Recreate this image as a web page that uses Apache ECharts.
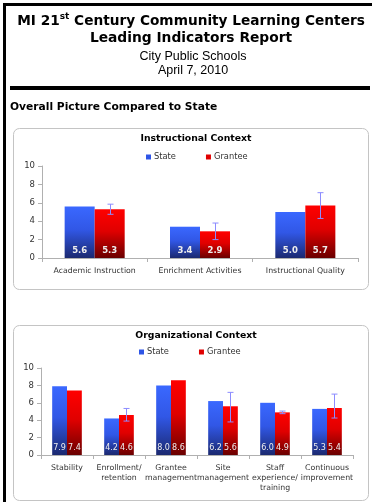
<!DOCTYPE html>
<html><head><meta charset="utf-8">
<script src="https://cdn.jsdelivr.net/npm/echarts@6/dist/echarts.min.js"></script>
<style>html,body{margin:0;padding:0;background:#fff}#c{width:372px;height:502px}</style>
</head><body><div id="c"></div>
<script>
// ---- data ----
const instCategories = ['Academic Instruction', 'Enrichment Activities', 'Instructional Quality'];
const instState = [5.6, 3.4, 5.0];
const instGrantee = [5.3, 2.9, 5.7];
const instGranteeLow = [4.75, 2.0, 4.3];
const instGranteeHigh = [5.85, 3.8, 7.1];

const orgCategories = ['Stability', 'Enrollment/\nretention', 'Grantee\nmanagement', 'Site\nmanagement', 'Staff\nexperience/\ntraining', 'Continuous\nimprovement'];
const orgState = [7.9, 4.2, 8.0, 6.2, 6.0, 5.3];
const orgGrantee = [7.4, 4.6, 8.6, 5.6, 4.9, 5.4];
const orgGranteeLow = [null, 3.9, null, 3.8, 4.75, 4.25];
const orgGranteeHigh = [null, 5.35, null, 7.2, 5.05, 7.0];

const seriesNames = ['State', 'Grantee'];
const yMin = 0, yMax = 10, yStep = 2;

// ---- styling ----
const FONT = '"DejaVu Sans", Verdana, sans-serif';
const GAP = 0.43;
const blueGrad = new echarts.graphic.LinearGradient(0, 0, 0, 1, [
  {offset: 0, color: '#3a68ff'}, {offset: 0.45, color: '#3157e6'}, {offset: 1, color: '#1b2970'}]);
const redGrad = new echarts.graphic.LinearGradient(0, 0, 0, 1, [
  {offset: 0, color: '#ff0000'}, {offset: 0.45, color: '#e00000'}, {offset: 1, color: '#6a0000'}]);

function errData(lo, hi) {
  const out = [];
  lo.forEach((v, i) => { if (v != null && hi[i] != null) out.push([i, v, hi[i]]); });
  return out;
}
function errRender(params, api) {
  const i = api.value(0), lo = api.value(1), hi = api.value(2);
  const band = api.size([1, 0])[0];
  const bw = band * (1 - GAP) / 2;
  const p1 = api.coord([i, lo]), p2 = api.coord([i, hi]);
  const cx = Math.round(p1[0] + bw / 2) + 0.5;
  const st = {stroke: '#8c8cff', lineWidth: 1};
  const cap = 3;
  return {type: 'group', children: [
    {type: 'line', shape: {x1: cx, y1: p1[1], x2: cx, y2: p2[1]}, style: st},
    {type: 'line', shape: {x1: cx - cap, y1: p1[1], x2: cx + cap, y2: p1[1]}, style: st},
    {type: 'line', shape: {x1: cx - cap, y1: p2[1], x2: cx + cap, y2: p2[1]}, style: st}
  ]};
}
function labelStyle(size, weight) {
  return {show: true, position: 'insideBottom', distance: 3, color: '#eeeeee',
    fontSize: size, fontWeight: weight, fontFamily: FONT, formatter: p => p.value.toFixed(1)};
}

function xAx(idx, cats) {
  return {type: 'category', gridIndex: idx, data: cats,
    axisLine: {lineStyle: {color: '#b0b0b0'}},
    axisTick: {show: true, length: 4, lineStyle: {color: '#b0b0b0'}},
    axisLabel: {interval: 0, fontSize: 7.8, color: '#333', fontFamily: FONT, margin: 8, lineHeight: 10}};
}
function yAx(idx) {
  return {type: 'value', gridIndex: idx, min: yMin, max: yMax, interval: yStep,
    axisLine: {show: true, lineStyle: {color: '#b0b0b0'}},
    axisTick: {show: true, length: 4, lineStyle: {color: '#b0b0b0'}},
    splitLine: {show: false},
    axisLabel: {fontSize: 8.5, color: '#333', fontFamily: FONT, margin: 7}};
}
function barSeries(name, idx, data, color, lbl) {
  return {name, type: 'bar', xAxisIndex: idx, yAxisIndex: idx, data,
    barGap: 0, barCategoryGap: (GAP * 100) + '%',
    itemStyle: {color}, label: lbl, emphasis: {disabled: true}};
}
const legendBase = {padding: 0, itemWidth: 5, itemHeight: 5, icon: 'rect', itemGap: 30,
  textStyle: {fontSize: 8.3, color: '#333', fontFamily: FONT, padding: [0, 0, 0, -2]},
  data: [{name: 'State', itemStyle: {color: '#2e55e6'}}, {name: 'Grantee', itemStyle: {color: '#e00000'}}]};

const chart = echarts.init(document.getElementById('c'), null, {renderer: 'canvas'});
chart.setOption({
  animation: false,
  backgroundColor: '#fff',
  graphic: [
    {type: 'rect', shape: {x: 3, y: 3, width: 372, height: 3}, style: {fill: '#000'}},
    {type: 'rect', shape: {x: 3, y: 3, width: 3, height: 502}, style: {fill: '#000'}},
    {type: 'text', style: {x: 191, y: 21, text: '{m|MI 21}{s|st}{m| Century Community Learning Centers}',
      textAlign: 'center', textVerticalAlign: 'middle',
      rich: {m: {fontSize: 13.7, fontWeight: 'bold', fontFamily: FONT, fill: '#000', lineHeight: 17},
             s: {fontSize: 9, fontWeight: 'bold', fontFamily: FONT, fill: '#000', verticalAlign: 'top', lineHeight: 17}}}},
    {type: 'text', style: {x: 191, y: 38, text: 'Leading Indicators Report', textAlign: 'center', textVerticalAlign: 'middle',
      font: 'bold 13.8px ' + FONT, fill: '#000'}},
    {type: 'text', style: {x: 193, y: 57, text: 'City Public Schools', textAlign: 'center', textVerticalAlign: 'middle',
      font: '12.5px "Liberation Sans", Arial, sans-serif', fill: '#000'}},
    {type: 'text', style: {x: 193, y: 71, text: 'April 7, 2010', textAlign: 'center', textVerticalAlign: 'middle',
      font: '12.5px "Liberation Sans", Arial, sans-serif', fill: '#000'}},
    {type: 'rect', shape: {x: 10, y: 86, width: 360, height: 4}, style: {fill: '#000'}},
    {type: 'text', style: {x: 10, y: 107, text: 'Overall Picture Compared to State', textVerticalAlign: 'middle',
      font: 'bold 10.7px ' + FONT, fill: '#000'}},
    {type: 'rect', z: -1, shape: {x: 13.5, y: 128.5, width: 355, height: 161, r: 6}, style: {fill: '#fff', stroke: '#c4c4c4', lineWidth: 1}},
    {type: 'text', style: {x: 196, y: 139, text: 'Instructional Context', textAlign: 'center', textVerticalAlign: 'middle',
      font: 'bold 9.3px ' + FONT, fill: '#000'}},
    {type: 'rect', z: -1, shape: {x: 13.5, y: 325.5, width: 355, height: 175, r: 6}, style: {fill: '#fff', stroke: '#c4c4c4', lineWidth: 1}},
    {type: 'text', style: {x: 196, y: 336, text: 'Organizational Context', textAlign: 'center', textVerticalAlign: 'middle',
      font: 'bold 9.3px ' + FONT, fill: '#000'}}
  ],
  legend: [
    Object.assign({}, legendBase, {left: 146, top: 153}),
    Object.assign({}, legendBase, {left: 139, top: 348})
  ],
  grid: [
    {left: 42, right: 14, top: 166, bottom: 244},
    {left: 41, right: 19, top: 368, bottom: 47}
  ],
  xAxis: [xAx(0, instCategories), xAx(1, orgCategories)],
  yAxis: [yAx(0), yAx(1)],
  series: [
    barSeries(seriesNames[0], 0, instState, blueGrad, labelStyle(8.5, 'bold')),
    barSeries(seriesNames[1], 0, instGrantee, redGrad, labelStyle(8.5, 'bold')),
    {type: 'custom', xAxisIndex: 0, yAxisIndex: 0, renderItem: errRender, data: errData(instGranteeLow, instGranteeHigh), z: 10, silent: true},
    barSeries(seriesNames[0], 1, orgState, blueGrad, labelStyle(8, 'normal')),
    barSeries(seriesNames[1], 1, orgGrantee, redGrad, labelStyle(8, 'normal')),
    {type: 'custom', xAxisIndex: 1, yAxisIndex: 1, renderItem: errRender, data: errData(orgGranteeLow, orgGranteeHigh), z: 10, silent: true}
  ]
});
</script></body></html>
